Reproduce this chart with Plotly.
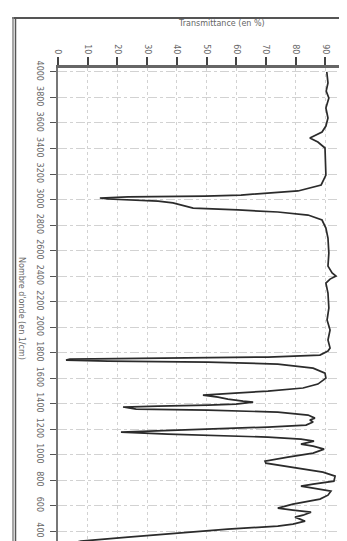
import plotly.graph_objects as go

# ---- data ----
wavenumber = [4000, 3914, 3850, 3796, 3718, 3639, 3576, 3529, 3482, 3451, 3404, 3286, 3192, 3114,
              3067, 3035, 3027, 3020, 3012, 3004, 2988, 2973, 2949, 2933, 2918, 2902, 2878, 2839,
              2776, 2698, 2580, 2478, 2424, 2400, 2376, 2345, 2267, 2149, 2055, 1977, 1898, 1835,
              1812, 1780, 1765, 1757, 1749, 1741, 1733, 1725, 1710, 1678, 1639, 1600, 1553, 1522,
              1498, 1482, 1467, 1451, 1435, 1420, 1412, 1396, 1388, 1380, 1373, 1357, 1349, 1333,
              1310, 1286, 1271, 1255, 1231, 1216, 1200, 1184, 1177, 1161, 1153, 1137, 1122, 1106,
              1082, 1067, 1043, 1012, 980, 949, 933, 894, 863, 831, 792, 769, 753, 737, 714, 682,
              651, 612, 580, 565, 549, 525, 510, 494, 478, 455, 439, 416, 384, 353, 322, 282]
transmittance = [90.5, 90.9, 90.3, 91.2, 90.2, 90.9, 90.2, 88.9, 84.8, 87.5, 89.9, 90.2, 90.2, 88.6,
                 80.8, 61.6, 49.5, 23.6, 14.1, 16.8, 33.7, 38.7, 43.1, 45.5, 60.6, 74.0, 84.2, 88.9,
                 90.2, 90.9, 91.2, 90.9, 92.3, 93.6, 91.6, 90.2, 90.9, 91.2, 90.6, 91.6, 90.9, 91.6,
                 90.9, 88.2, 70.7, 23.6, 4.0, 2.7, 16.8, 50.5, 74.0, 85.9, 89.9, 90.2, 87.5, 82.5,
                 70.7, 59.6, 48.8, 53.9, 57.2, 62.3, 65.7, 59.9, 50.5, 33.7, 21.9, 26.3, 50.5, 74.0,
                 84.2, 86.5, 84.8, 85.9, 83.5, 70.7, 50.5, 25.3, 21.2, 37.0, 48.8, 70.7, 81.8, 86.2,
                 81.8, 85.9, 89.6, 85.9, 77.4, 69.7, 70.0, 80.8, 89.2, 93.3, 92.9, 85.9, 81.8, 85.9,
                 91.9, 90.9, 88.2, 79.1, 74.0, 79.1, 85.2, 82.5, 79.8, 81.5, 83.2, 79.1, 74.0, 57.2,
                 41.4, 23.6, 7.7, 0.7]

t_ticks = [0, 10, 20, 30, 40, 50, 60, 70, 80, 90, 100]
t_labels = ["0", "10", "20", "30", "40", "50", "60", "70", "80", "90", "100"]
w_ticks = [4000, 3800, 3600, 3400, 3200, 3000, 2800, 2600, 2400, 2200, 2000,
           1800, 1600, 1400, 1200, 1000, 800, 600, 400]
w_labels = [str(v) for v in w_ticks]

x_title = "Transmittance (en %)"
y_title = "Nombre d'onde (en 1/cm)"

# ---- layout geometry (pixels) ----
W, H = 347, 541
L, R, T, B = 50, 0, 60, 0
PW, PH = W - L - R, H - T - B


def px(x):
    return (x - L) / PW


def py(y):
    return (H - B - y) / PH


fig = go.Figure()
fig.add_trace(go.Scatter(
    x=transmittance, y=wavenumber, mode="lines",
    line=dict(color="#2b2b2b", width=1.7), hoverinfo="skip", showlegend=False))

tickfont = dict(family="DejaVu Sans", size=8, color="#666")

fig.update_layout(
    width=W, height=H, autosize=False,
    margin=dict(l=L, r=R, t=T, b=B, pad=0),
    paper_bgcolor="white", plot_bgcolor="white",
    xaxis=dict(
        side="top", range=[0, 100], tickmode="array", tickvals=t_ticks, ticktext=t_labels,
        tickangle=90, tickfont=tickfont, ticks="outside", ticklen=8, tickwidth=1.5,
        tickcolor="#444", showline=True, linecolor="#666", linewidth=2.5,
        showgrid=True, gridcolor="#d2d2d2", gridwidth=1, griddash="dot", zeroline=False,
    ),
    yaxis=dict(
        range=[260, 4031], tickmode="array", tickvals=w_ticks, ticktext=w_labels,
        tickangle=90, tickfont=tickfont, ticks="outside", ticklen=6, tickwidth=1.2,
        tickcolor="#555", showline=True, linecolor="#777", linewidth=1.5,
        ticklabelstandoff=4,
        showgrid=True, gridcolor="#d2d2d2", gridwidth=1, griddash="dashdot", zeroline=False,
    ),
    annotations=[
        dict(text=x_title, x=px(213), y=py(15), xref="paper", yref="paper",
             showarrow=False, font=dict(family="DejaVu Sans", size=8, color="#666"),
             xanchor="center", yanchor="middle"),
        dict(text=y_title, x=px(14), y=py(300), xref="paper", yref="paper",
             showarrow=False, textangle=90,
             font=dict(family="DejaVu Sans", size=8, color="#666"),
             xanchor="center", yanchor="middle"),
    ],
    shapes=[
        dict(type="line", xref="paper", yref="paper", x0=px(4), x1=px(W + 2),
             y0=py(10), y1=py(10), line=dict(color="#555", width=2)),
        dict(type="line", xref="paper", yref="paper", x0=px(5), x1=px(5),
             y0=py(9), y1=py(H + 2), line=dict(color="#888", width=1.5)),
        dict(type="line", xref="paper", yref="paper", x0=px(7.5), x1=px(7.5),
             y0=py(9), y1=py(H + 2), line=dict(color="#555", width=1.5)),
    ],
)

fig.write_html("out.html", config={"displayModeBar": False})
